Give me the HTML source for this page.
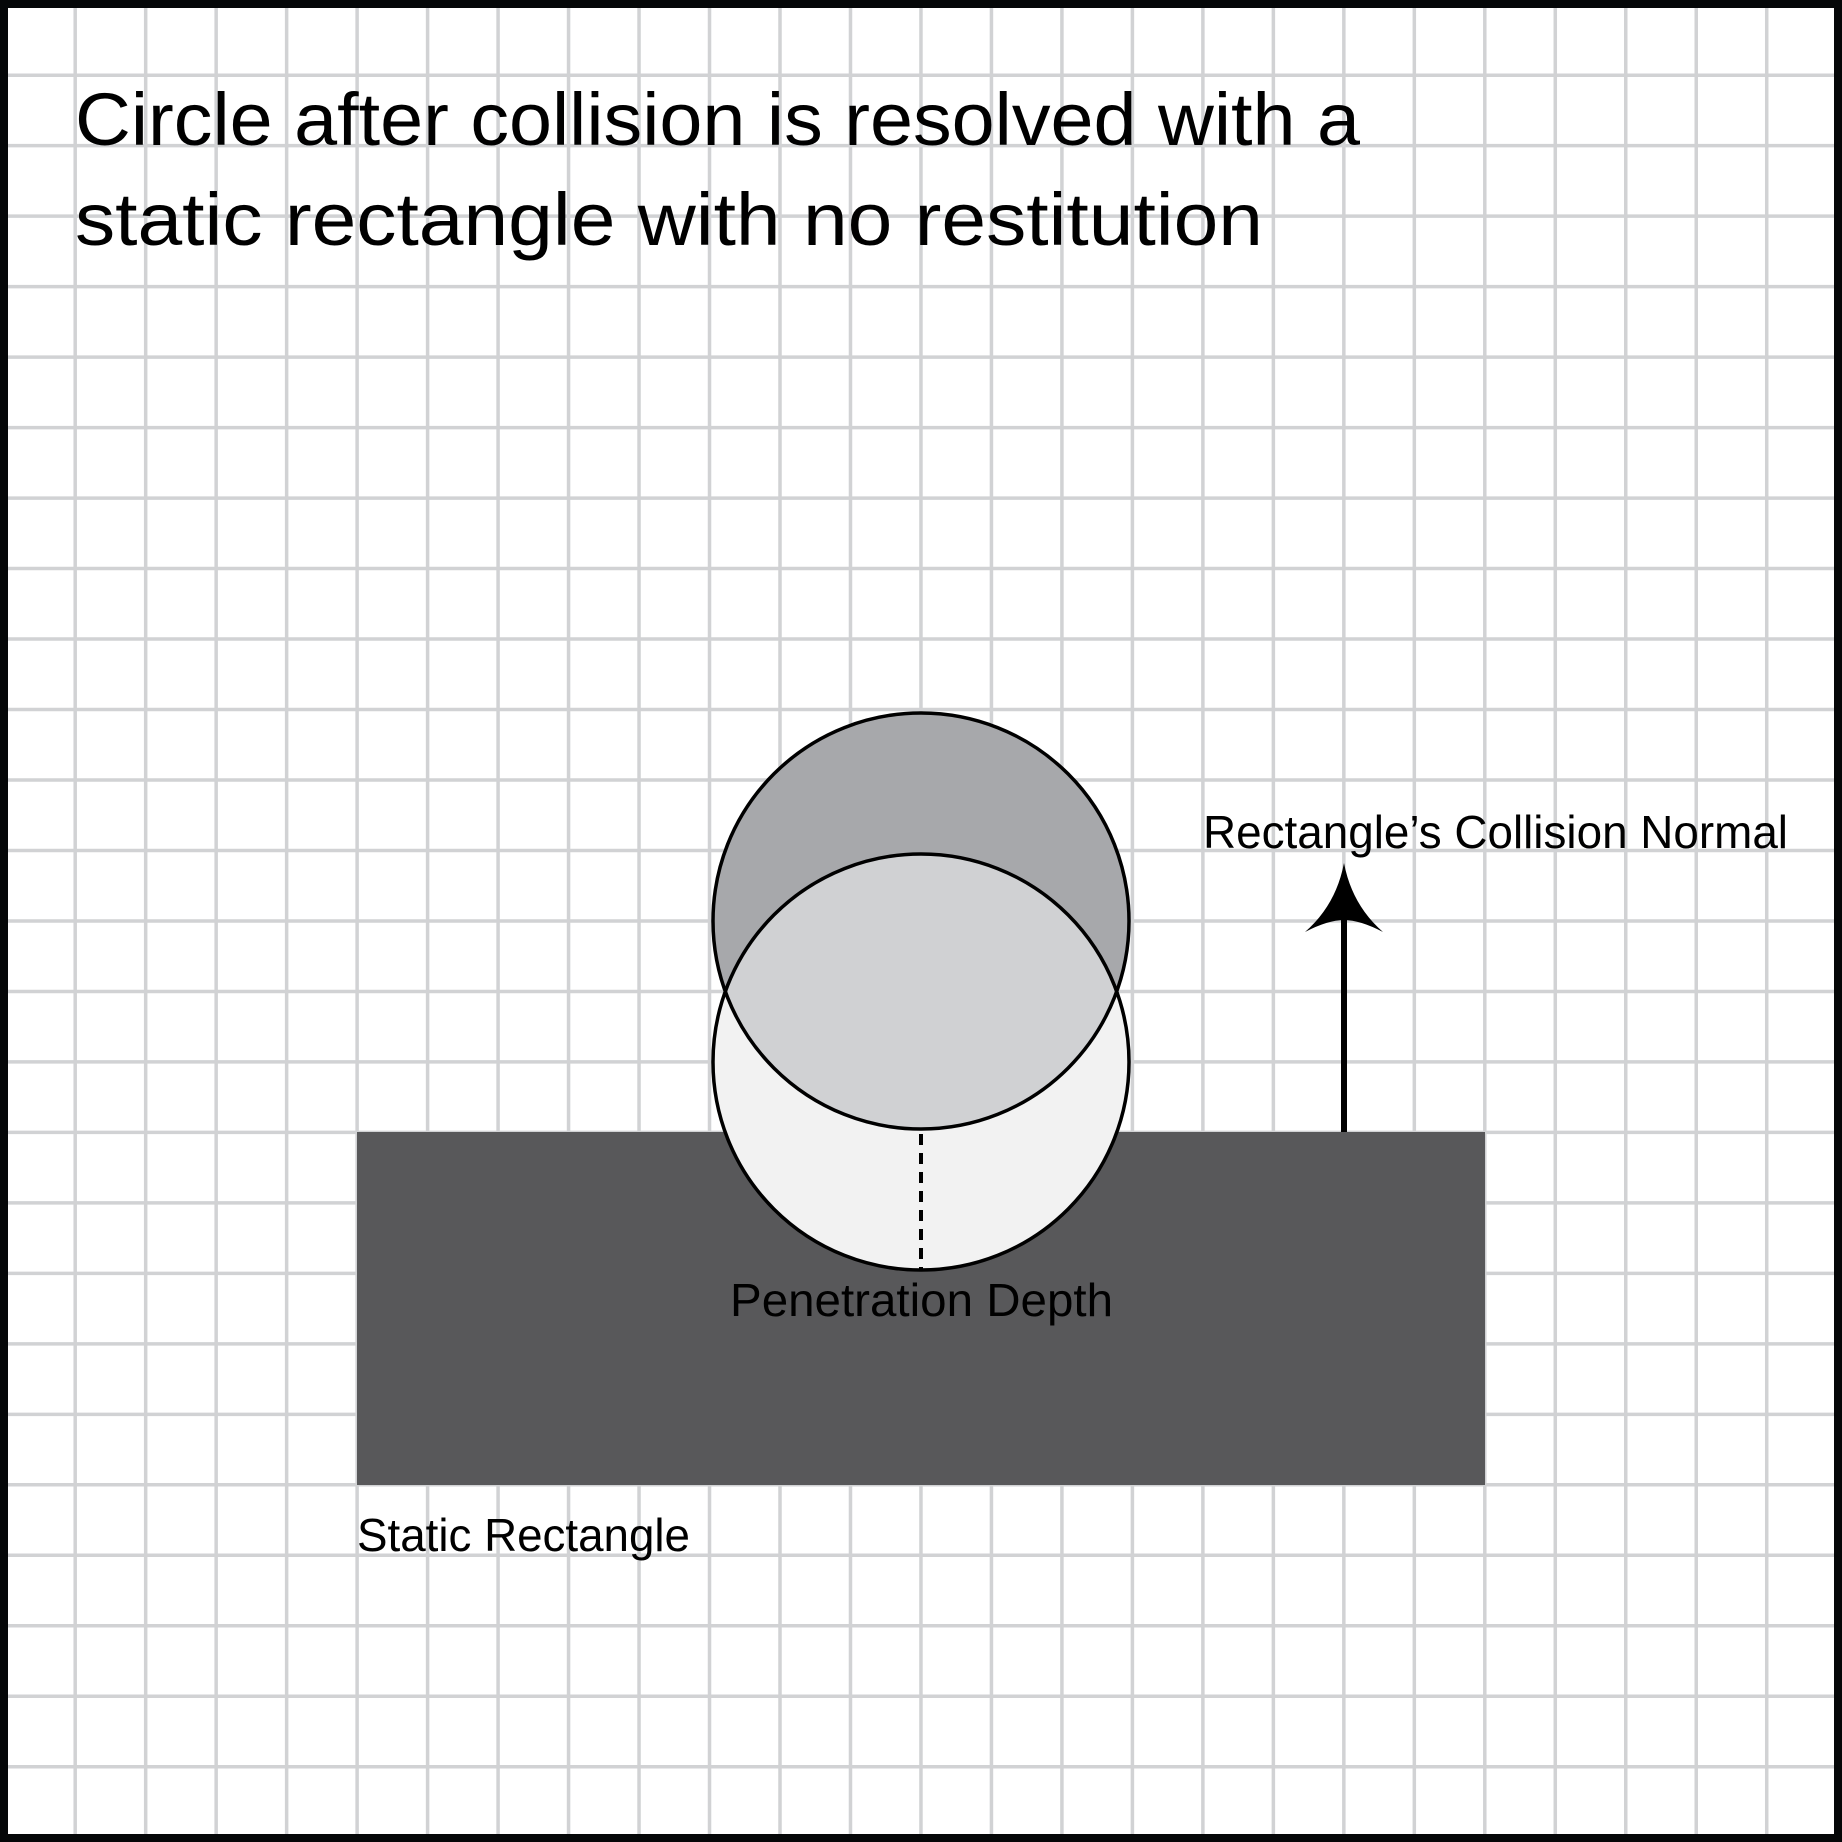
<!DOCTYPE html>
<html><head><meta charset="utf-8"><style>
html,body{margin:0;padding:0;background:#fff}
svg{display:block}
text{font-family:"Liberation Sans",sans-serif;fill:#000}
</style></head><body>
<svg id="s" width="1842" height="1842" viewBox="0 0 1842 1842">
<rect x="0" y="0" width="1842" height="1842" fill="#fff"/>
<g id="grid"></g>
<rect x="357" y="1132" width="1128" height="353" fill="#58585a"/>
<defs><clipPath id="cu"><circle cx="921" cy="921" r="208"/></clipPath></defs>
<circle cx="921" cy="1062" r="208" fill="#f2f2f2"/>
<circle cx="921" cy="921" r="208" fill="#a7a8ab"/>
<circle cx="921" cy="1062" r="208" fill="#d0d1d3" clip-path="url(#cu)"/>
<circle cx="921" cy="1062" r="208" fill="none" stroke="#000" stroke-width="3.5"/>
<circle cx="921" cy="921" r="208" fill="none" stroke="#000" stroke-width="3.5"/>
<line x1="921" y1="1134" x2="921" y2="1270" stroke="#000" stroke-width="4" stroke-dasharray="11,8"/>
<line x1="1344" y1="1132" x2="1344" y2="910" stroke="#000" stroke-width="6"/>
<path d="M1344 863 Q1352 905 1383 932 Q1360 920 1344 920 Q1328 920 1305 932 Q1336 905 1344 863Z" fill="#000"/>
<text x="75" y="145" font-size="74" textLength="1285" lengthAdjust="spacingAndGlyphs">Circle after collision is resolved with a</text>
<text x="75" y="245" font-size="74" textLength="1188" lengthAdjust="spacingAndGlyphs">static rectangle with no restitution</text>
<text x="1203" y="848" font-size="46" textLength="585" lengthAdjust="spacingAndGlyphs">Rectangle’s Collision Normal</text>
<text x="730" y="1316" font-size="46" textLength="383" lengthAdjust="spacingAndGlyphs">Penetration Depth</text>
<text x="357" y="1551" font-size="46" textLength="333" lengthAdjust="spacingAndGlyphs">Static Rectangle</text>
<rect x="4" y="4" width="1834" height="1834" fill="none" stroke="#050708" stroke-width="8"/>
</svg>
<script>
const gridStart=75.2, gridStep=70.48, gridCount=25;
const g=document.getElementById('grid');
const NS='http://www.w3.org/2000/svg';
for(let k=0;k<gridCount;k++){
  const p=gridStart+k*gridStep;
  const v=document.createElementNS(NS,'line');
  v.setAttribute('x1',p);v.setAttribute('x2',p);v.setAttribute('y1',0);v.setAttribute('y2',1842);
  v.setAttribute('stroke','#d1d2d4');v.setAttribute('stroke-width','3.5');
  
  
  g.appendChild(v);
  const h=document.createElementNS(NS,'line');
  h.setAttribute('y1',p);h.setAttribute('y2',p);h.setAttribute('x1',0);h.setAttribute('x2',1842);
  h.setAttribute('stroke','#d1d2d4');h.setAttribute('stroke-width','3.5');
  
  
  g.appendChild(h);
}
</script>
</body></html>
